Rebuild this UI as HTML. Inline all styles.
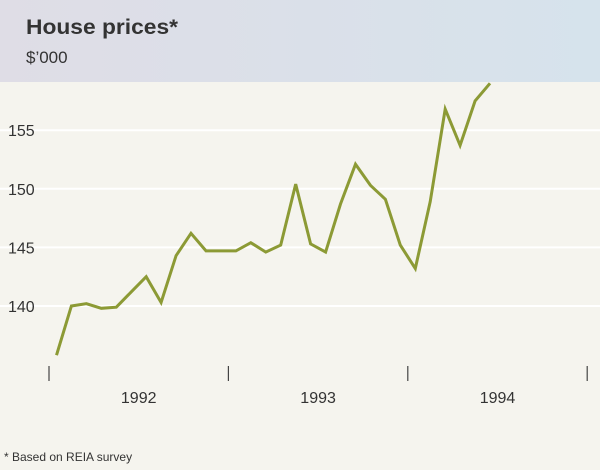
<!DOCTYPE html>
<html><head><meta charset="utf-8"><style>
body{margin:0;width:600px;height:465px;overflow:hidden;background:#f5f4ee;font-family:"Liberation Sans",Arial,sans-serif}
</style></head><body>
<svg width="600" height="465" viewBox="0 0 600 465">
<defs><linearGradient id="hg" x1="0" x2="1" y1="0" y2="0"><stop offset="0" stop-color="#dfdde6"/><stop offset="1" stop-color="#d6e3ec"/></linearGradient></defs>
<rect x="0" y="0" width="600" height="82" fill="url(#hg)"/>
<text x="26" y="34" font-size="21" font-weight="bold" fill="#333" style="font-stretch:condensed" textLength="152" lengthAdjust="spacingAndGlyphs">House prices*</text>
<text x="26" y="63" font-size="17" fill="#333">$’000</text>
<g id="grid"></g>
<g id="yl"></g>
<g id="xt"></g>
<path id="line" fill="none" stroke="#8c9a35" stroke-width="3" stroke-linejoin="miter"/>
<text x="4" y="461" font-size="12" fill="#333">*  Based on REIA survey</text>
</svg>
<script>
const values=[135.8,140.0,140.2,139.8,139.9,141.2,142.5,140.3,144.3,146.2,144.7,144.7,144.7,145.4,144.6,145.2,150.4,145.3,144.6,148.7,152.1,150.3,149.1,145.2,143.2,148.9,156.8,153.7,157.5,159.0];
const yTicks=[140,145,150,155];
const years=["1992","1993","1994"];
const ns="http://www.w3.org/2000/svg";
const x0=49,mw=14.95;
const xm=i=>x0+(i+0.5)*mw;
const y=v=>306-(v-140)*11.72;
const g=document.getElementById('grid'),yl=document.getElementById('yl'),xt=document.getElementById('xt');
yTicks.forEach(t=>{
 const l=document.createElementNS(ns,'line');
 l.setAttribute('x1',0);l.setAttribute('x2',600);l.setAttribute('y1',y(t));l.setAttribute('y2',y(t));
 l.setAttribute('stroke','#ffffff');l.setAttribute('stroke-width','2');
 
 
 g.appendChild(l);
 const tx=document.createElementNS(ns,'text');
 tx.setAttribute('x',8);tx.setAttribute('y',y(t)+6);tx.setAttribute('font-size','16');tx.setAttribute('fill','#333');
 tx.textContent=t;
 
 
 yl.appendChild(tx);
});
for(let k=0;k<=years.length;k++){
 const xx=x0+k*12*mw;
 const l=document.createElementNS(ns,'line');
 l.setAttribute('x1',xx);l.setAttribute('x2',xx);l.setAttribute('y1',366);l.setAttribute('y2',381);
 l.setAttribute('stroke','#444');l.setAttribute('stroke-width','1.2');
 
 
 xt.appendChild(l);
}
years.forEach((yr,k)=>{
 const tx=document.createElementNS(ns,'text');
 tx.setAttribute('x',x0+(k+0.5)*12*mw);tx.setAttribute('y',403);tx.setAttribute('font-size','16');
 tx.setAttribute('text-anchor','middle');tx.setAttribute('fill','#333');
 tx.textContent=yr;
 
 
 xt.appendChild(tx);
});
document.getElementById('line').setAttribute('d',values.map((v,i)=>(i?'L':'M')+xm(i).toFixed(1)+' '+y(v).toFixed(1)).join(' '));
</script>
</body></html>
